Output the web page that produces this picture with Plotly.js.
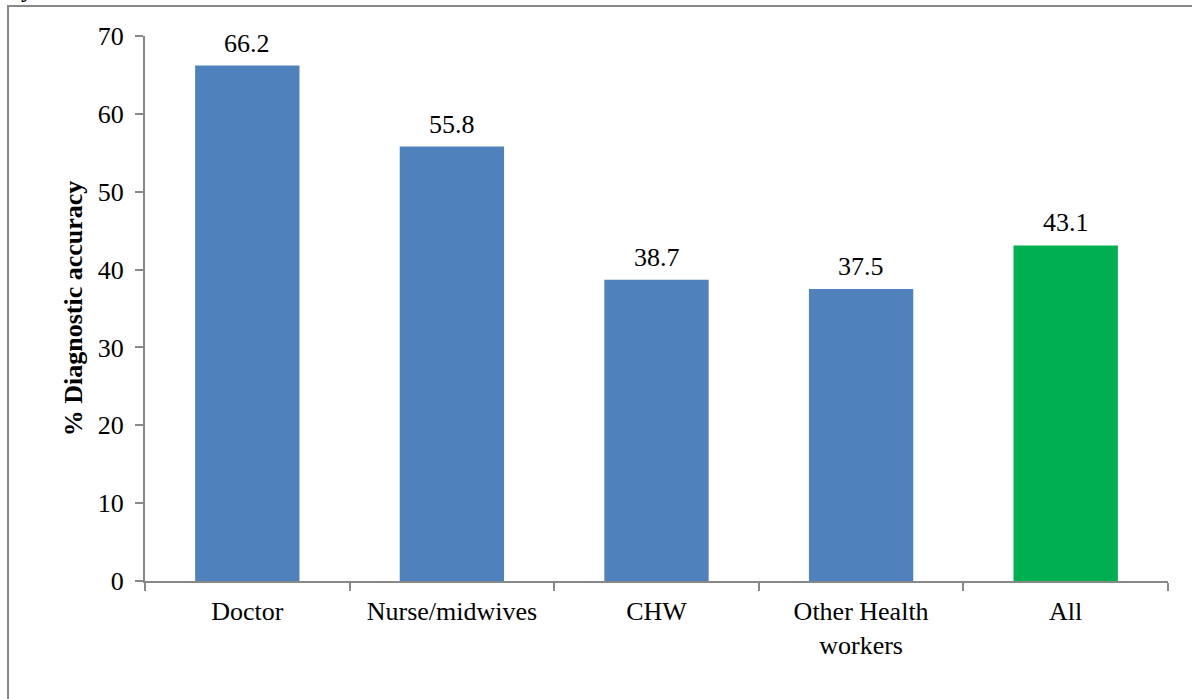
<!DOCTYPE html>
<html>
<head>
<meta charset="utf-8">
<script src="https://cdn.plot.ly/plotly-3.0.1.min.js"></script>
<style>html,body{margin:0;padding:0;background:#fff;}#chart{width:1192px;height:699px;}</style>
</head>
<body>
<div id="chart"></div>
<script>
const categories = ["Doctor", "Nurse/midwives", "CHW", "Other Health<br>workers", "All"];
const accuracy = [66.2, 55.8, 38.7, 37.5, 43.1];
const labels = ["66.2", "55.8", "38.7", "37.5", "43.1"];
const barColors = ["#4F81BD", "#4F81BD", "#4F81BD", "#4F81BD", "#00B050"];
const yTicks = [0, 10, 20, 30, 40, 50, 60, 70];

const serif = "Liberation Serif, Times New Roman, serif";

const trace = {
  type: "bar",
  x: categories,
  y: accuracy,
  marker: {color: barColors, line: {width: 0}},
  width: 0.51,
  hoverinfo: "none"
};

const annotations = categories.map((c, i) => ({
  x: c, y: accuracy[i], xref: "x", yref: "y",
  text: labels[i], showarrow: false,
  yanchor: "bottom", yshift: 6,
  font: {family: serif, size: 26, color: "#000"}
}));
annotations.push({
  x: -0.1153, y: 1.0587, xref: "paper", yref: "paper",
  text: "<b>y</b>", showarrow: false, yanchor: "bottom", xanchor: "center",
  font: {family: serif, size: 24, color: "#000"}
});

const layout = {
  width: 1192, height: 699,
  margin: {l: 145, r: 24, t: 36, b: 118},
  paper_bgcolor: "#fff", plot_bgcolor: "#fff",
  showlegend: false,
  bargap: 0.49,
  xaxis: {
    type: "category",
    showline: true, linecolor: "#888", linewidth: 2,
    ticks: "outside", tickson: "boundaries", ticklen: 8, tickcolor: "#888", tickwidth: 2,
    tickfont: {family: serif, size: 26, color: "#000"},
    ticklabelstandoff: 6,
    showgrid: false, zeroline: false, fixedrange: true
  },
  yaxis: {
    range: [0, 70],
    tickvals: yTicks,
    showline: true, linecolor: "#888", linewidth: 2,
    ticks: "outside", ticklen: 8, tickcolor: "#888", tickwidth: 2,
    tickfont: {family: serif, size: 26, color: "#000"},
    showgrid: false, zeroline: false, fixedrange: true,
    ticklabelstandoff: 6,
    title: {text: "<b>% Diagnostic accuracy</b>", font: {family: serif, size: 26, color: "#000"}, standoff: 8}
  },
  annotations: annotations,
  shapes: [{
    type: "rect", xref: "paper", yref: "paper",
    x0: -0.1339, x1: 1.3, y0: -0.5, y1: 1.055,
    line: {color: "#888", width: 2}, fillcolor: "rgba(0,0,0,0)", layer: "below"
  }]
};

Plotly.newPlot("chart", [trace], layout, {displayModeBar: false, staticPlot: true});
</script>
</body>
</html>
